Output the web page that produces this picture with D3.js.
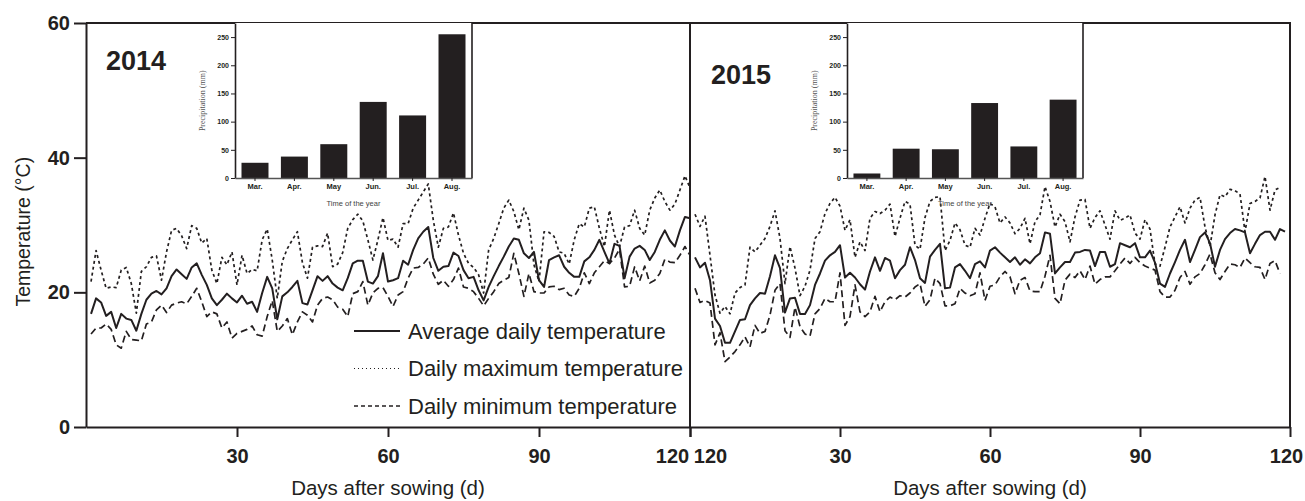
<!DOCTYPE html>
<html>
<head>
<meta charset="utf-8">
<script src="https://cdn.jsdelivr.net/npm/d3@7"></script>
<style>
  body { margin: 0; background: #fff; }
  svg { font-family: "Liberation Sans", Arial, sans-serif; }
</style>
</head>
<body>
<svg class="chart" width="1305" height="501"></svg>
<script>
// daily temperatures (°C), day 1 .. n after sowing
var avg2014 = [16.8,19.1,18.5,16.5,17.1,14.7,16.8,16.1,15.9,14.3, 16.8,18.9,19.8,20.2,19.7,20.6,22.4,23.4,22.7,22.0,
  23.7,24.3,22.6,21.1,19.1,18.1,18.9,19.8,19.1,18.5, 19.5,18.3,18.6,17.1,19.9,22.3,20.6,16.0,19.4,20.0,
  20.8,21.7,18.4,18.2,20.3,22.4,21.7,22.4,21.3,20.7, 20.3,22.1,24.3,24.7,24.7,21.6,21.3,22.4,25.8,21.6,
  21.8,22.1,24.7,24.1,26.3,28.0,29.0,29.7,25.1,23.2, 23.8,23.9,25.9,25.4,23.3,22.1,22.3,20.3,18.8,20.8,
  22.4,23.9,25.3,26.8,28.0,27.8,25.8,25.1,26.0,21.8, 20.8,24.8,25.2,25.5,23.8,22.9,22.3,22.3,24.6,25.2,
  26.3,27.8,26.0,24.3,27.2,26.9,22.1,25.3,26.5,26.9, 26.3,24.8,26.0,27.8,29.2,27.7,26.8,29.2,31.2,31.0];
var max2014 = [21.6,26.2,23.3,20.6,20.8,20.7,23.3,23.7,21.3,16.9, 23.1,23.8,25.2,25.4,21.8,26.0,29.2,29.5,28.4,26.5,
  29.9,29.5,27.3,28.0,23.3,21.3,25.2,24.1,26.0,21.1, 25.5,22.8,23.4,23.2,27.8,29.4,24.8,19.1,24.6,26.5,
  27.8,29.0,24.4,22.1,26.7,26.9,26.8,28.8,23.8,24.2, 25.9,29.5,30.8,31.6,30.6,27.8,24.8,27.8,31.1,27.7,
  27.9,26.7,30.2,30.2,32.5,33.7,34.9,36.1,30.7,26.7, 29.5,29.7,31.8,28.5,25.8,24.3,23.7,22.6,19.9,26.3,
  28.0,30.2,32.5,33.7,32.0,29.3,32.5,30.7,24.1,21.6, 29.0,28.9,28.3,26.0,25.8,24.2,27.8,30.2,29.7,32.5,
  32.7,29.5,26.8,32.2,28.5,26.8,29.7,29.9,32.2,29.5, 28.5,32.2,34.0,35.2,33.5,32.2,33.1,35.2,37.3,35.5];
var min2014 = [13.8,14.7,14.7,15.3,14.5,12.2,11.7,14.2,13.0,12.9, 12.8,15.3,15.6,17.4,18.1,17.0,18.1,18.4,18.6,18.3,
  19.4,20.6,18.6,16.4,17.1,16.8,14.7,15.6,13.2,13.9, 14.2,14.5,15.0,13.7,13.5,16.4,18.8,14.2,15.0,16.1,
  13.7,15.6,17.1,16.6,15.6,18.1,19.1,19.3,18.9,17.8, 17.5,16.4,19.8,20.1,21.6,18.1,19.9,20.6,20.7,19.4,
  17.9,19.6,20.1,22.1,23.6,23.7,24.2,25.1,22.7,21.2, 21.8,20.9,21.9,23.6,20.8,20.6,20.1,19.1,18.0,19.1,
  20.1,21.3,21.8,22.2,25.8,22.8,19.4,22.8,20.1,19.9, 19.9,20.8,20.9,20.4,20.6,19.6,19.4,20.6,22.9,21.3,
  22.9,23.8,24.7,24.3,25.1,26.4,20.8,20.9,23.8,21.7, 23.9,21.4,21.8,22.8,24.9,24.5,24.4,25.5,26.8,25.5];

var avg2015 = [25.2,23.7,24.4,21.8,16.1,15.0,12.5,12.5,14.2,15.9, 16.0,18.1,19.1,19.9,19.8,22.4,25.5,23.6,17.0,19.1,
  19.2,16.8,16.8,18.1,21.1,22.8,24.7,25.5,26.0,27.0, 22.2,22.9,22.2,21.2,20.4,23.1,25.2,23.2,25.1,24.7,
  22.1,23.3,24.1,26.7,24.8,22.1,21.4,25.3,26.3,27.2, 20.6,20.7,23.7,24.2,23.2,22.1,24.2,24.6,23.7,26.2,
  26.7,25.9,25.2,24.5,25.2,24.1,24.9,24.3,25.2,25.8, 28.9,28.7,22.8,23.7,24.5,24.5,25.9,26.0,26.3,26.2,
  23.9,26.0,26.0,23.8,24.2,27.3,27.0,26.7,27.3,25.2, 25.2,26.2,24.4,21.3,20.8,22.8,24.5,26.3,27.8,24.5,
  26.3,28.2,28.9,27.3,23.8,26.3,27.9,28.8,29.4,29.2, 28.9,25.8,27.2,28.5,29.0,29.0,27.8,29.4,29.0];
var max2015 = [31.6,29.8,31.3,25.5,19.6,16.9,17.9,16.8,19.9,20.7, 21.1,26.7,26.0,27.0,28.0,29.8,32.1,28.0,21.3,26.8,
  23.6,19.5,20.9,23.3,28.0,29.0,31.7,33.2,34.1,32.8, 29.2,30.8,25.2,27.5,26.2,31.0,32.0,31.7,32.2,33.1,
  28.3,31.0,33.5,33.1,27.0,26.4,31.1,33.5,34.1,34.2, 26.2,27.7,30.3,29.3,27.0,26.7,29.5,28.5,31.0,33.2,
  32.7,30.3,31.2,30.3,28.7,29.5,31.0,27.2,30.5,31.5, 35.7,33.5,29.7,31.6,30.5,27.5,31.2,33.7,33.8,29.5,
  31.1,32.1,30.0,27.9,32.1,30.7,31.0,31.5,28.8,27.9, 30.8,29.4,24.2,23.9,26.7,29.7,31.2,32.7,30.3,32.5,
  33.7,34.1,29.7,26.8,31.5,34.5,34.2,35.3,35.1,34.6, 29.0,33.2,33.5,34.0,37.2,32.2,35.2,35.6];
var min2015 = [20.6,18.5,18.8,18.4,12.2,14.0,9.7,10.4,11.2,12.2, 13.4,11.9,15.1,13.9,14.2,16.6,20.3,21.3,14.3,13.3,
  17.8,14.9,13.8,13.5,16.8,17.6,19.1,18.6,18.6,22.9, 15.1,16.4,21.1,17.1,16.4,17.1,19.4,17.1,18.6,19.3,
  18.9,19.5,19.3,19.9,20.8,21.3,17.9,18.9,22.1,21.3, 18.0,18.0,18.3,20.6,19.9,19.5,19.8,22.9,18.8,20.9,
  21.1,22.3,23.1,22.3,19.8,21.8,22.2,20.2,20.1,20.1, 22.4,25.5,19.1,18.3,21.8,22.7,22.2,23.2,21.9,23.9,
  21.2,21.9,22.3,22.3,23.2,24.2,25.1,24.3,25.2,24.4, 23.9,23.6,23.3,20.1,19.3,19.3,20.3,22.2,23.1,21.2,
  22.3,22.8,24.1,25.7,22.9,21.9,23.1,24.2,24.1,23.7, 25.1,24.4,23.8,23.7,21.9,24.3,24.7,22.8];

// monthly precipitation (mm)
var months = ['Mar.','Apr.','May','Jun.','Jul.','Aug.'];
var rain2014 = [27, 38, 60, 135, 111, 255];
var rain2015 = [8, 52, 51, 133, 56, 139];

var tempTicks = [0, 20, 40, 60];
var dayTicks = [30, 60, 90, 120];
var rainTicks = [0, 50, 100, 150, 200, 250];

var ink = '#231f20';
var svg = d3.select('svg.chart');

var y = d3.scaleLinear().domain([0, 60]).range([427, 23]);
var x1 = d3.scaleLinear().domain([0, 120]).range([86, 690]);
var x2 = d3.scaleLinear().domain([0, 120]).range([690, 1290]);

function styleAxis(g, size, weight){
	g.select('.domain').attr('stroke', ink).attr('stroke-width', 2);
	g.selectAll('.tick line').attr('stroke', ink).attr('stroke-width', 2);
	g.selectAll('.tick text').attr('fill', ink).attr('font-size', size).attr('font-weight', weight)
		.attr('font-family', '"Liberation Sans", Arial, sans-serif');
}

/* --------- frame ---------*/
svg.append('path')
	.attr('d', 'M' + x1(0) + ',' + y(60) + 'H' + x2(120) + 'V' + y(0))
	.attr('fill', 'none').attr('stroke', ink).attr('stroke-width', 2);
svg.append('line')
	.attr('x1', x1(120)).attr('x2', x1(120)).attr('y1', y(60)).attr('y2', y(0))
	.attr('stroke', ink).attr('stroke-width', 2);

/* --------- axes ---------*/
var gy = svg.append('g').attr('transform', 'translate(' + x1(0) + ',0)')
	.call(d3.axisLeft(y).tickValues(tempTicks).tickSize(12).tickSizeOuter(0).tickPadding(4));
styleAxis(gy, 20, 'bold');

var gx1 = svg.append('g').attr('transform', 'translate(0,' + y(0) + ')')
	.call(d3.axisBottom(x1).tickValues(dayTicks).tickSize(10).tickSizeOuter(0).tickPadding(12));
styleAxis(gx1, 20, 'bold');
gx1.selectAll('.tick text').filter(function(d){ return d === 120; }).attr('dx', -18);

var gx2 = svg.append('g').attr('transform', 'translate(0,' + y(0) + ')')
	.call(d3.axisBottom(x2).tickValues([0].concat(dayTicks)).tickSize(10).tickSizeOuter(0).tickPadding(12)
		.tickFormat(function(d){ return d === 0 ? '120' : d; }));
styleAxis(gx2, 20, 'bold');
gx2.selectAll('.tick text').filter(function(d){ return d === 0; }).attr('dx', 20);
gx2.selectAll('.tick text').filter(function(d){ return d === 120; }).attr('dx', -4);

svg.append('text').attr('transform', 'translate(30,' + y(29) + ') rotate(-90)')
	.attr('text-anchor', 'middle').attr('font-size', 19.5).attr('fill', ink)
	.text('Temperature (°C)');
svg.append('text').attr('x', x1(60)).attr('y', 495).attr('text-anchor', 'middle')
	.attr('font-size', 20.5).attr('fill', ink).text('Days after sowing (d)');
svg.append('text').attr('x', x2(60)).attr('y', 495).attr('text-anchor', 'middle')
	.attr('font-size', 20.5).attr('fill', ink).text('Days after sowing (d)');

svg.append('text').attr('x', 106).attr('y', 70).attr('font-size', 27).attr('font-weight', 'bold')
	.attr('fill', ink).text('2014');
svg.append('text').attr('x', 711).attr('y', 84).attr('font-size', 27).attr('font-weight', 'bold')
	.attr('fill', ink).text('2015');

/* --------- temperature lines ---------*/
var styles = {
	avg: {dash: null, w: 2},
	max: {dash: '3,3', w: 1.7},
	min: {dash: '7,4', w: 1.7}
};

function drawLines(x, series){
	var line = d3.line()
		.x(function(d, i){ return x(i + 1); })
		.y(function(d){ return y(d); });
	series.forEach(function(s){
		svg.append('path')
			.datum(s.values)
			.attr('fill', 'none')
			.attr('stroke', ink)
			.attr('stroke-width', styles[s.kind].w)
			.attr('stroke-dasharray', styles[s.kind].dash)
			.attr('stroke-linejoin', 'round')
			.attr('d', line);
	});
}

drawLines(x1, [{kind: 'min', values: min2014}, {kind: 'max', values: max2014}, {kind: 'avg', values: avg2014}]);
drawLines(x2, [{kind: 'min', values: min2015}, {kind: 'max', values: max2015}, {kind: 'avg', values: avg2015}]);

/* --------- legend ---------*/
var legendItems = [
	{label: 'Average daily temperature', dash: null, w: 2},
	{label: 'Daily maximum temperature', dash: '1,3', w: 1},
	{label: 'Daily minimum temperature', dash: '4,3', w: 1.3}
];
var legend = svg.append('g').attr('class', 'legend');
legendItems.forEach(function(d, i){
	var ly = 331 + i * 37.5;
	legend.append('line').attr('x1', 354).attr('x2', 400).attr('y1', ly).attr('y2', ly)
		.attr('stroke', ink).attr('stroke-width', d.w).attr('stroke-dasharray', d.dash);
	legend.append('text').attr('x', 408).attr('y', ly + 7.5).attr('font-size', 22)
		.attr('fill', ink).text(d.label);
});

/* --------- precipitation insets ---------*/
function inset(left, right, values){
	var g = svg.append('g').attr('class', 'inset');
	var yb = d3.scaleLinear().domain([0, 275]).range([178, 23]);
	var xb = d3.scaleBand().domain(months).range([left, right]).paddingInner(0.315).paddingOuter(0.165);

	g.append('rect').attr('x', left).attr('y', 23).attr('width', right - left).attr('height', 155)
		.attr('fill', '#fff');
	g.selectAll('rect.bar').data(values).enter().append('rect')
		.attr('class', 'bar')
		.attr('x', function(d, i){ return xb(months[i]); })
		.attr('width', xb.bandwidth())
		.attr('y', function(d){ return yb(d); })
		.attr('height', function(d){ return yb(0) - yb(d); })
		.attr('fill', ink);

	g.append('line').attr('x1', right).attr('x2', right).attr('y1', 23).attr('y2', 178)
		.attr('stroke', ink).attr('stroke-width', 1.6);

	var ga = g.append('g').attr('transform', 'translate(' + left + ',0)')
		.call(d3.axisLeft(yb).tickValues(rainTicks).tickSize(4).tickSizeOuter(0).tickPadding(2));
	styleAxis(ga, 7, 'bold');
	ga.select('.domain').attr('stroke-width', 1.6);
	ga.selectAll('.tick line').attr('stroke-width', 1);

	var gb = g.append('g').attr('transform', 'translate(0,178)')
		.call(d3.axisBottom(xb).tickSize(3).tickSizeOuter(0).tickPadding(3));
	styleAxis(gb, 7.5, 'bold');
	gb.select('.domain').attr('stroke-width', 1.6).attr('stroke', '#555');
	gb.selectAll('.tick line').attr('stroke-width', 1);

	g.append('text').attr('x', (left + right) / 2).attr('y', 206).attr('text-anchor', 'middle')
		.attr('font-size', 7.5).attr('fill', '#444').text('Time of the year');
	g.append('text').attr('transform', 'translate(' + (left - 30) + ',' + yb(137) + ') rotate(-90)')
		.attr('text-anchor', 'middle').attr('font-size', 8).attr('fill', '#555')
		.attr('font-family', '"Liberation Serif", "Times New Roman", serif')
		.text('Precipitation (mm)');
}

inset(235, 472, rain2014);
inset(847, 1083, rain2015);
</script>
</body>
</html>
